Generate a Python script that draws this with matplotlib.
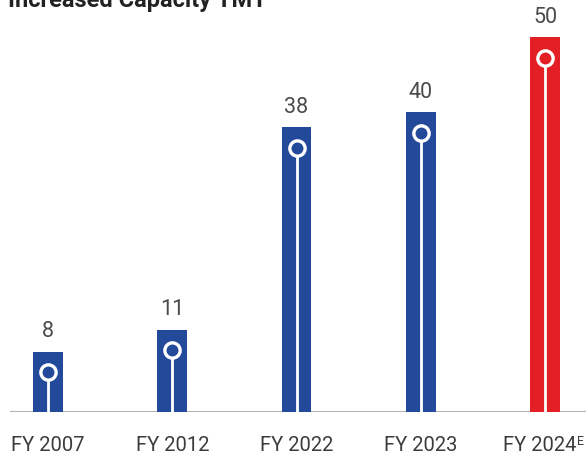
import matplotlib
matplotlib.use("Agg")
import matplotlib.pyplot as plt
from matplotlib.transforms import offset_copy

plt.rcParams['font.family'] = ['Roboto', 'DejaVu Sans']

# --- capacity data ---
years = ['FY 2007', 'FY 2012', 'FY 2022', 'FY 2023', 'FY 2024']
capacity = [8, 11, 38, 40, 50]
bar_colors = ['#234a9a', '#234a9a', '#234a9a', '#234a9a', '#e31e24']

fig = plt.figure(figsize=(5.86, 4.55), dpi=100)
ax = fig.add_axes([10 / 586, 1 - 412 / 455, 576 / 586, 412 / 455])

x = list(range(len(capacity)))
ax.bar(x, capacity, width=0.24, color=bar_colors, zorder=2)

# white lollipop inside each bar
for xi, v, c in zip(x, capacity, bar_colors):
    pin = v - 2.7
    ax.plot([xi, xi], [0, pin], color='white', lw=2, zorder=3, solid_capstyle='butt')
    ax.plot(xi, pin, marker='o', ms=11, mfc=c, mec='white', mew=2.4, zorder=4)
    ax.text(xi, v + 1.3, str(v), ha='center', va='bottom', fontsize=15.5,
            color='#4a4a4a')

ax.set_xlim(-0.306, 4.33)
ax.set_ylim(0, 55)
ax.axhline(0, color='#b3b3b3', lw=2.2, zorder=1)

ax.set_xticks(x)
ax.set_xticklabels(years, fontsize=14.5, color='#3c3c3c')
ax.tick_params(axis='x', length=0, pad=17)
ax.set_yticks([])
for s in ax.spines.values():
    s.set_visible(False)

# the last year is an estimate: shift its label left and add a superscript E
last = ax.get_xticklabels()[-1]
last.set_transform(offset_copy(last.get_transform(), fig=fig, x=-5, units='dots'))
fig.canvas.draw()
bb = last.get_window_extent()
fig.text(bb.x1 / fig.bbox.width, bb.y1 / fig.bbox.height + 0.002, 'E',
         fontsize=9, color='#3c3c3c', ha='left', va='top')

fig.text(8 / 586, 1 - 7 / 455, 'Increased Capacity TMT', fontsize=17,
         fontweight='bold', color='#222222', ha='left', va='baseline')

fig.savefig('out.png', dpi=100)
